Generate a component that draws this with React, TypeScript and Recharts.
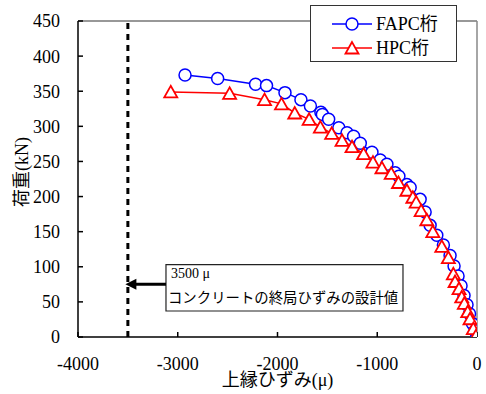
import React from "react";
import {
  LineChart,
  Line,
  XAxis,
  YAxis,
  ReferenceLine,
  ReferenceArea,
} from "recharts";

// FAPC girder: top-edge strain (μ) and load (kN)
const fapcStrain = [
  -2927, -2600, -2220, -2110, -1925, -1765, -1670, -1565, -1550, -1487, -1385,
  -1303, -1237, -1170, -1053, -970, -903, -820, -783, -703, -670, -570, -520,
  -470, -403, -337, -270, -230, -190, -160, -130, -100, -75, -45, -20, 0,
];
const fapcLoad = [
  373, 368, 360, 358, 348, 338, 329, 320, 317, 310, 298, 291, 286, 276, 263,
  252, 246, 234, 229, 217, 213, 196, 178, 159, 145, 131, 116, 101, 87, 73, 59,
  46, 33, 19, 9, 1,
];

// HPC girder
const hpcStrain = [
  -3070, -2480, -2130, -1960, -1827, -1683, -1570, -1457, -1353, -1253, -1137,
  -1043, -953, -860, -787, -703, -643, -610, -560, -503, -443, -353, -287, -237,
  -220, -180, -153, -127, -93, -70, -37, -10,
];
const hpcLoad = [
  349, 347, 338, 332, 319, 310, 299, 290, 280, 271, 261, 249, 241, 233, 220,
  209, 199, 192, 180, 167, 150, 129, 113, 90, 79, 69, 57, 48, 36, 26, 12, 2,
];

const seriesNames = ["FAPC桁", "HPC桁"];
const xTicks = [-4000, -3000, -2000, -1000, 0];
const yTicks = [0, 50, 100, 150, 200, 250, 300, 350, 400, 450];
const limitStrain = -3500;
const noteLines = ["3500 μ", "コンクリートの終局ひずみの設計値"];
const noteBox = { x1: -3118, x2: -742, y1: 37, y2: 103 };
const arrow = { from: -3118, to: -3525, load: 75 };

const fapcData = fapcStrain.map((s, i) => ({ strain: s, load: fapcLoad[i] }));
const hpcData = hpcStrain.map((s, i) => ({ strain: s, load: hpcLoad[i] }));

const FONT = '"Liberation Serif", "Noto Sans CJK JP", serif';
const BLUE = "#0000ff";
const RED = "#ff0000";

const TriangleDot = (props: any) => {
  const { cx, cy, index } = props;
  if (cx == null || cy == null) return <g key={`t-${index}`} />;
  return (
    <polygon
      key={`t-${index}`}
      points={`${cx},${cy - 6} ${cx - 6.5},${cy + 5.5} ${cx + 6.5},${cy + 5.5}`}
      fill="#fff"
      stroke={RED}
      strokeWidth={1.8}
    />
  );
};

// arrow from the note box to the dashed limit line
const ArrowShape = (props: any) => {
  const { x1, y1, x2, y2 } = props;
  if (x1 == null) return null;
  return (
    <g>
      <line x1={x1} y1={y1} x2={x2 + 8} y2={y2} stroke="#000" strokeWidth={3} />
      <polygon
        points={`${x2},${y2} ${x2 + 11},${y2 - 5.5} ${x2 + 11},${y2 + 5.5}`}
        fill="#000"
      />
    </g>
  );
};

const renderNote = (props: any) => {
  const { x, y } = props.viewBox;
  return (
    <g>
      <text x={x + 5} y={y + 13} fontFamily={FONT} fontSize={14} fill="#000">
        {noteLines[0]}
      </text>
      <text
        x={x + 2}
        y={y + 38}
        fontFamily='"Noto Sans CJK JP", sans-serif'
        fontSize={14.4}
        fill="#000"
      >
        {noteLines[1]}
      </text>
    </g>
  );
};

const renderYLabel = (props: any) => {
  const { x, y, height } = props.viewBox;
  const cx = x + 22;
  const cy = y + height / 2 - 7;
  return (
    <text
      x={cx}
      y={cy}
      transform={`rotate(-90 ${cx} ${cy})`}
      textAnchor="middle"
      dominantBaseline="central"
      fontFamily={FONT}
      fontSize={18}
      fill="#000"
    >
      荷重(kN)
    </text>
  );
};

const renderXLabel = (props: any) => {
  const { x, y, width } = props.viewBox;
  return (
    <text
      x={x + width / 2}
      y={y + 49}
      textAnchor="middle"
      fontFamily={FONT}
      fontSize={18}
      fill="#000"
    >
      上縁ひずみ(μ)
    </text>
  );
};

const LegendIcon = ({ kind }: { kind: number }) => (
  <svg width={44} height={20} style={{ display: "block" }}>
    <line
      x1={0}
      y1={10}
      x2={40}
      y2={10}
      stroke={kind === 0 ? BLUE : RED}
      strokeWidth={1.5}
    />
    {kind === 0 ? (
      <circle cx={20} cy={10} r={6} fill="#fff" stroke={BLUE} strokeWidth={1.5} />
    ) : (
      <polygon
        points="20,4 13.5,15.5 26.5,15.5"
        fill="#fff"
        stroke={RED}
        strokeWidth={1.8}
      />
    )}
  </svg>
);

export default function App() {
  return (
    <div style={{ position: "absolute", left: 0, top: 0, width: 486, height: 394 }}>
      <LineChart
        width={486}
        height={394}
        margin={{ top: 21, right: 9, left: 0, bottom: 0 }}
      >
        <XAxis
          type="number"
          dataKey="strain"
          domain={[-4000, 0]}
          ticks={xTicks}
          interval={0}
          allowDataOverflow
          height={57}
          tickSize={-5}
          tickMargin={25}
          stroke="#000"
          strokeWidth={1.5}
          tick={{ fill: "#000", fontSize: 18, fontFamily: FONT }}
          label={renderXLabel}
        />
        <YAxis
          type="number"
          dataKey="load"
          domain={[0, 450]}
          ticks={yTicks}
          interval={0}
          allowDataOverflow
          width={78}
          tickSize={-5}
          tickMargin={23}
          stroke="#000"
          strokeWidth={1.5}
          tick={{ fill: "#000", fontSize: 18, fontFamily: FONT }}
          label={renderYLabel}
        />
        <ReferenceLine y={450} stroke="#333" strokeWidth={1.2} />
        <ReferenceLine x={0} stroke="#888" strokeWidth={1.5} />
        <ReferenceLine
          x={limitStrain}
          stroke="#000"
          strokeWidth={3}
          strokeDasharray="6 5"
        />
        <ReferenceLine
          segment={[
            { x: arrow.from, y: arrow.load },
            { x: arrow.to, y: arrow.load },
          ]}
          shape={ArrowShape}
        />
        <ReferenceArea
          x1={noteBox.x1}
          x2={noteBox.x2}
          y1={noteBox.y1}
          y2={noteBox.y2}
          fill="#fff"
          fillOpacity={1}
          stroke="#222"
          strokeWidth={1.2}
          label={renderNote}
        />
        <Line
          data={fapcData}
          dataKey="load"
          name={seriesNames[0]}
          stroke={BLUE}
          strokeWidth={1.5}
          dot={{ r: 6, fill: "#fff", stroke: BLUE, strokeWidth: 1.5 }}
          isAnimationActive={false}
        />
        <Line
          data={hpcData}
          dataKey="load"
          name={seriesNames[1]}
          stroke={RED}
          strokeWidth={1.5}
          dot={TriangleDot}
          isAnimationActive={false}
        />
      </LineChart>
      <div
        style={{
          position: "absolute",
          left: 310,
          top: 5,
          width: 147,
          height: 57,
          boxSizing: "border-box",
          border: "1.5px solid #333",
          background: "#fff",
          fontFamily: FONT,
          fontSize: 18,
        }}
      >
        {seriesNames.map((name, i) => (
          <div
            key={name}
            style={{
              position: "absolute",
              left: 21,
              top: 8 + i * 24,
              height: 20,
              display: "flex",
              alignItems: "center",
              whiteSpace: "nowrap",
            }}
          >
            <LegendIcon kind={i} />
            <span style={{ lineHeight: "20px" }}>{name}</span>
          </div>
        ))}
      </div>
    </div>
  );
}
